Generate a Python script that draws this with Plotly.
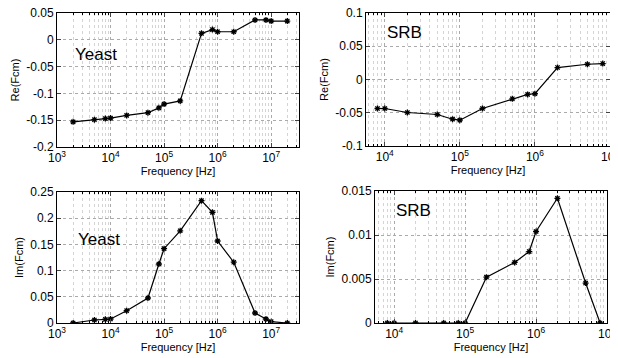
import plotly.graph_objects as go

# ---- data ----
yeast_f = [2e3, 5e3, 8e3, 1e4, 2e4, 5e4, 8e4, 1e5, 2e5, 5e5, 8e5, 1e6, 2e6, 5e6, 8e6, 1e7, 2e7]
yeast_re = [-0.153, -0.149, -0.147, -0.146, -0.141, -0.136, -0.127, -0.120, -0.114,
            0.012, 0.019, 0.015, 0.015, 0.037, 0.037, 0.035, 0.035]
yeast_im = [0.0, 0.0057, 0.007, 0.0076, 0.0235, 0.0477, 0.1126, 0.1418, 0.176,
            0.2335, 0.2112, 0.1565, 0.116, 0.0191, 0.0076, 0.0025, 0.0]

srb_f = [8e3, 1e4, 2e4, 5e4, 8e4, 1e5, 2e5, 5e5, 8e5, 1e6, 2e6, 5e6, 8e6]
srb_re = [-0.0436, -0.0436, -0.0496, -0.0526, -0.0597, -0.0612, -0.0436,
          -0.029, -0.0224, -0.0214, 0.018, 0.0229, 0.024]
srb_im = [0.0, 0.0, 0.0, 0.0, 0.0, 0.0, 0.00521, 0.00688, 0.00812, 0.0104,
          0.01417, 0.00454, 0.0]

x_tickvals = [1e3, 1e4, 1e5, 1e6, 1e7]
x_ticktext = ["10<sup>3</sup>", "10<sup>4</sup>", "10<sup>5</sup>", "10<sup>6</sup>", "10<sup>7</sup>"]
x_minorvals = [m * d for d in [1e3, 1e4, 1e5, 1e6, 1e7] for m in range(2, 10)]

panels = [
    # (x, y, xdomain px, ydomain px, xrange(log), yrange, ytickvals, yticktext, ytitle, label, label pos)
    (yeast_f, yeast_re, [57, 299], [13, 147], [3, 7.52], [-0.2, 0.05],
     [-0.2, -0.15, -0.1, -0.05, 0, 0.05], ["-0.2", "-0.15", "-0.1", "-0.05", "0", "0.05"],
     "Re(Fcm)", "Yeast", (0.066, 0.687)),
    (srb_f, srb_re, [366, 610], [13, 146], [3.75, 7], [-0.1, 0.1],
     [-0.1, -0.05, 0, 0.05, 0.1], ["-0.1", "-0.05", "0", "0.05", "0.1"],
     "Re(Fcm)", "SRB", (0.078, 0.85)),
    (yeast_f, yeast_im, [57, 299], [192, 323], [3, 7.52], [0, 0.25],
     [0, 0.05, 0.1, 0.15, 0.2, 0.25], ["0", "0.05", "0.1", "0.15", "0.2", "0.25"],
     "Im(Fcm)", "Yeast", (0.078, 0.634)),
    (srb_f, srb_im, [375, 607], [191, 323], [3.73, 7], [0, 0.015],
     [0, 0.005, 0.01, 0.015], ["0", "0.005", "0.01", "0.015"],
     "Im(Fcm)", "SRB", (0.082, 0.85)),
]

W, H = 618, 358
OFF = 8  # page body margin in the browser
FONT = "Liberation Sans, Arial, sans-serif"

fig = go.Figure()
layout = dict(
    width=W, height=H, margin=dict(l=0, r=0, t=0, b=0, autoexpand=False),
    paper_bgcolor="white", plot_bgcolor="white", showlegend=False,
    font=dict(family=FONT, size=11, color="black"),
)
annotations = []

for i, (xs, ys, xd, yd, xr, yr, ytv, ytt, ytitle, label, lpos) in enumerate(panels, start=1):
    xa = "x" if i == 1 else f"x{i}"
    ya = "y" if i == 1 else f"y{i}"
    fig.add_trace(go.Scatter(
        x=xs, y=ys, mode="lines+markers", xaxis=xa, yaxis=ya,
        line=dict(color="black", width=1.2),
        marker=dict(symbol="asterisk-open", size=5, color="black", line=dict(color="black", width=1.3)),
    ))
    xkey = "xaxis" if i == 1 else f"xaxis{i}"
    ykey = "yaxis" if i == 1 else f"yaxis{i}"
    layout[xkey] = dict(
        type="log", range=xr, domain=[(xd[0] - OFF) / W, (xd[1] - OFF) / W], anchor=ya, automargin=False,
        tickmode="array", tickvals=x_tickvals, ticktext=x_ticktext, ticks="inside", ticklen=4,
        ticklabeloverflow="allow",
        showline=True, linecolor="black", linewidth=1, mirror="ticks",
        showgrid=True, gridcolor="#aaaaaa", griddash="dot", gridwidth=1,
        minor=dict(tickmode="array", tickvals=x_minorvals, showgrid=True, gridcolor="#d4d4d4",
                   griddash="dot", gridwidth=1, ticks="inside", ticklen=2, tickcolor="black"),
        tickfont=dict(size=12), zeroline=False,
        title=dict(text="Frequency [Hz]", font=dict(size=11), standoff=2),
    )
    layout[ykey] = dict(
        range=yr, domain=[1 - (yd[1] - OFF) / H, 1 - (yd[0] - OFF) / H], anchor=xa, automargin=False,
        tickmode="array", tickvals=ytv, ticktext=ytt, ticks="inside", ticklen=4,
        ticklabeloverflow="allow",
        showline=True, linecolor="black", linewidth=1, mirror="ticks",
        showgrid=True, gridcolor="#aaaaaa", griddash="dot", gridwidth=1,
        tickfont=dict(size=12), zeroline=False,
        title=dict(text=ytitle, font=dict(size=11), standoff=4),
    )
    annotations.append(dict(
        xref=f"{xa} domain", yref=f"{ya} domain", x=lpos[0], y=lpos[1],
        xanchor="left", yanchor="middle", text=label, showarrow=False,
        font=dict(size=17, family=FONT, color="black"),
    ))

layout["annotations"] = annotations
fig.update_layout(**layout)
fig.write_html("out.html")
